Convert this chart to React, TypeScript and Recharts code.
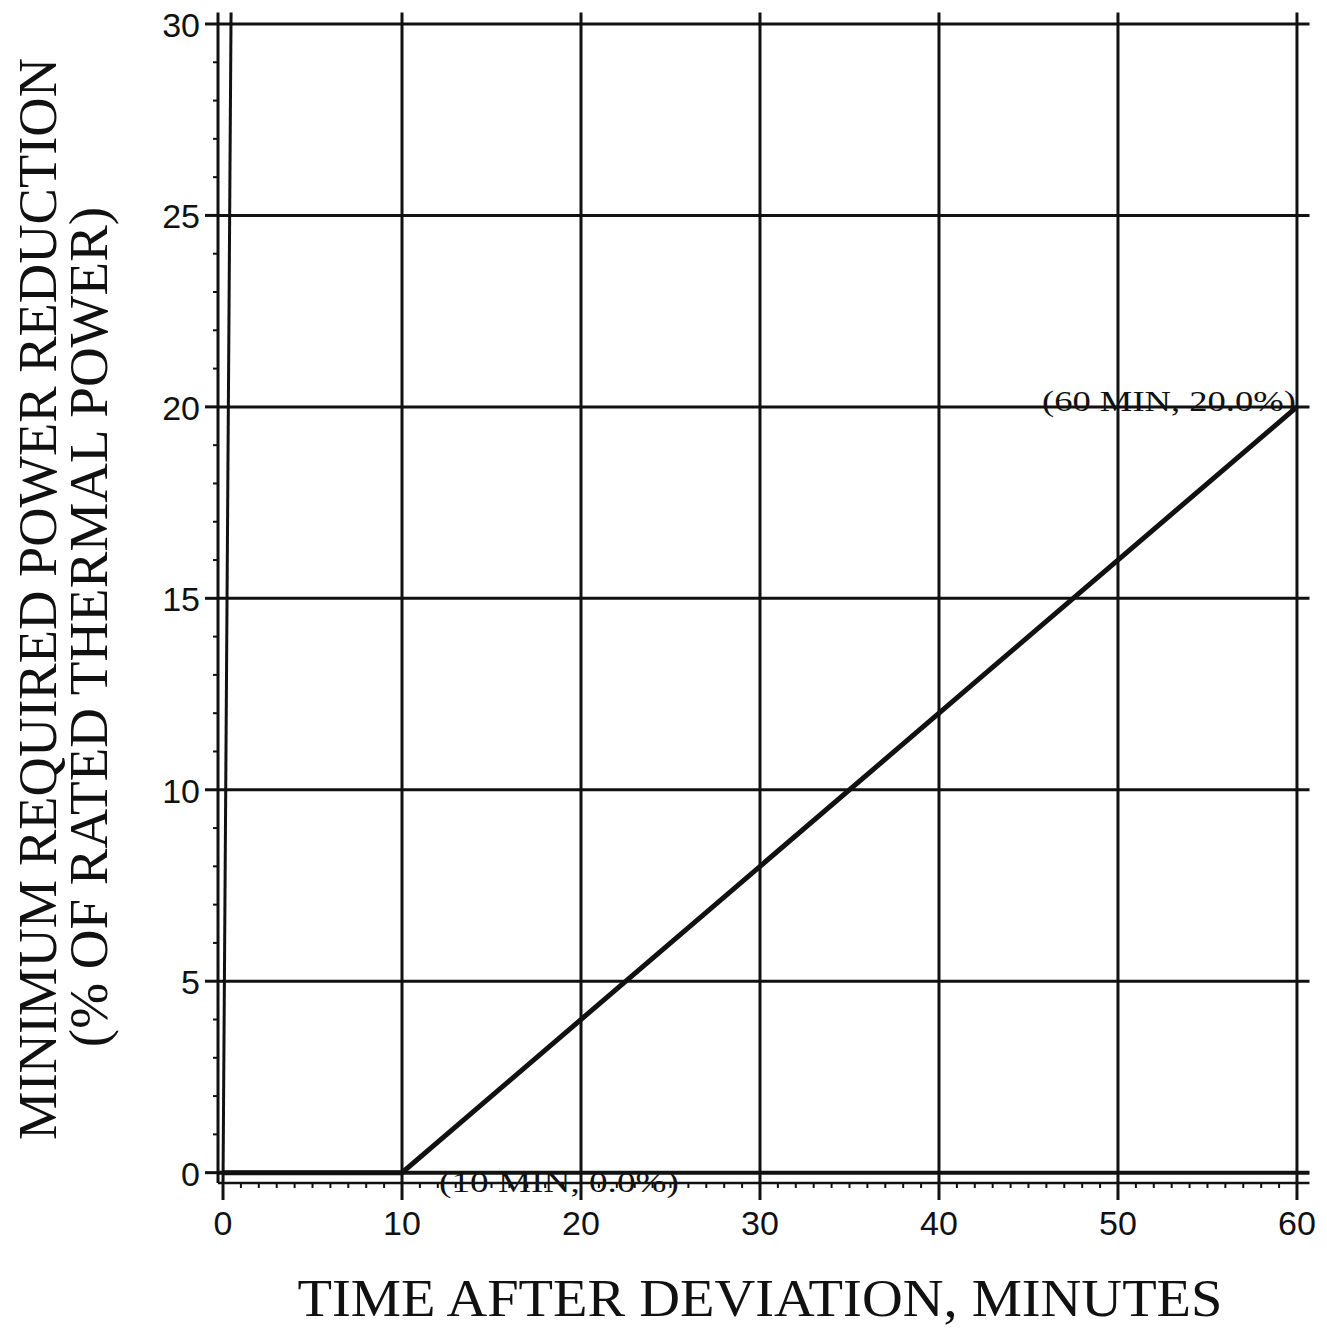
import React from "react";
import {
  Label,
  Line,
  LineChart,
  ReferenceDot,
  ReferenceLine,
  XAxis,
  YAxis,
} from "recharts";

// curve points
const minutes = [0, 10, 60];
const reduction = [0, 0, 20];

// gridlines / tick labels
const xMajor = [0, 10, 20, 30, 40, 50, 60];
const yMajor = [0, 5, 10, 15, 20, 25, 30];
const xMinor = Array.from({ length: 61 }, (_, i) => i);
const yMinor = Array.from({ length: 31 }, (_, i) => i);

// point callouts
const noteX = [10, 60];
const noteY = [0, 20];
const noteText = ["(10 MIN, 0.0%)", "(60 MIN, 20.0%)"];

const xTitle = "TIME AFTER DEVIATION, MINUTES";
const yTitle1 = "MINIMUM REQUIRED POWER REDUCTION";
const yTitle2 = "(% OF RATED THERMAL POWER)";

const data = minutes.map((t, i) => ({ t, p: reduction[i] }));

const INK = "#111";
const SERIF = "'Liberation Serif', 'Times New Roman', serif";
const SANS = "'Liberation Sans', Arial, sans-serif";

function XTick({ x, y, payload }: any) {
  const v = payload.value;
  const major = v % 10 === 0;
  return (
    <g>
      <line x1={x} x2={x} y1={y} y2={y + (major ? 17 : 5)} stroke={INK} strokeWidth={major ? 3 : 2} />
      {major && (
        <text x={x} y={y + 52} textAnchor="middle" fontFamily={SANS} fontSize={34} fill={INK}>
          {v}
        </text>
      )}
    </g>
  );
}

function YTick({ x, y, payload }: any) {
  const v = payload.value;
  const major = v % 5 === 0;
  return (
    <g>
      <line x1={x - (major ? 13 : 5)} x2={x} y1={y} y2={y} stroke={INK} strokeWidth={major ? 3 : 2} />
      {major && (
        <text x={x - 18} y={y + 13} textAnchor="end" fontFamily={SANS} fontSize={34} fill={INK}>
          {v}
        </text>
      )}
    </g>
  );
}

const XTitle = () => (
  <text x={760} y={1316} textAnchor="middle" fontFamily={SERIF} fontSize={53} fill={INK} textLength={925} lengthAdjust="spacingAndGlyphs">
    {xTitle}
  </text>
);

const YTitle = () => (
  <g fontFamily={SERIF} fontSize={55} fill={INK}>
    <text transform="translate(56, 599) rotate(-90)" textAnchor="middle" textLength={1082} lengthAdjust="spacingAndGlyphs">
      {yTitle1}
    </text>
    <text transform="translate(107, 627) rotate(-90)" textAnchor="middle">
      {yTitle2}
    </text>
  </g>
);

const noteLabel = (i: number) => (props: any) => {
  const vb = props.viewBox || {};
  const right = i === noteX.length - 1;
  return (
    <text
      x={right ? vb.x - 1 : vb.x + 37}
      y={right ? vb.y + 4 : vb.y + 19}
      textAnchor={right ? "end" : "start"}
      fontFamily={SERIF}
      fontSize={30}
      fill={INK}
      textLength={right ? 254 : 240}
      lengthAdjust="spacingAndGlyphs"
    >
      {noteText[i]}
    </text>
  );
};

export default function App() {
  return (
    <div style={{ position: "absolute", left: 0, top: 0, width: 1327, height: 1330, background: "#fff" }}>
      <LineChart width={1327} height={1330} data={data} margin={{ top: 12.5, right: 17.5, left: 150, bottom: 87 }}>
        <XAxis
          dataKey="t"
          type="number"
          domain={[-0.28, 60.7]}
          allowDataOverflow
          ticks={xMinor}
          interval={0}
          tickSize={0}
          tickMargin={0}
          tick={XTick}
          axisLine={{ stroke: INK, strokeWidth: 2.5 }}
          height={60}
        >
          <Label content={XTitle} />
        </XAxis>
        <YAxis
          type="number"
          domain={[-0.27, 30.3]}
          allowDataOverflow
          ticks={yMinor}
          interval={0}
          tickSize={0}
          tickMargin={0}
          tick={YTick}
          axisLine={{ stroke: INK, strokeWidth: 3 }}
          width={68}
        >
          <Label content={YTitle} />
        </YAxis>

        {yMajor.map((v) => (
          <ReferenceLine key={`h${v}`} y={v} stroke={INK} strokeWidth={v === 0 ? 4 : 3} />
        ))}
        {xMajor.slice(1).map((v) => (
          <ReferenceLine key={`v${v}`} x={v} stroke={INK} strokeWidth={3} />
        ))}
        {/* the zero line leans a little on the scan */}
        <ReferenceLine
          segment={[
            { x: 0.45, y: 30.3 },
            { x: 0, y: -0.27 },
          ]}
          stroke={INK}
          strokeWidth={3}
        />

        <Line
          dataKey="p"
          type="linear"
          stroke={INK}
          strokeWidth={5}
          dot={false}
          isAnimationActive={false}
        />

        {noteX.map((x, i) => (
          <ReferenceDot key={`n${i}`} x={x} y={noteY[i]} r={0} fill="none" stroke="none" label={noteLabel(i)} />
        ))}
      </LineChart>
    </div>
  );
}
